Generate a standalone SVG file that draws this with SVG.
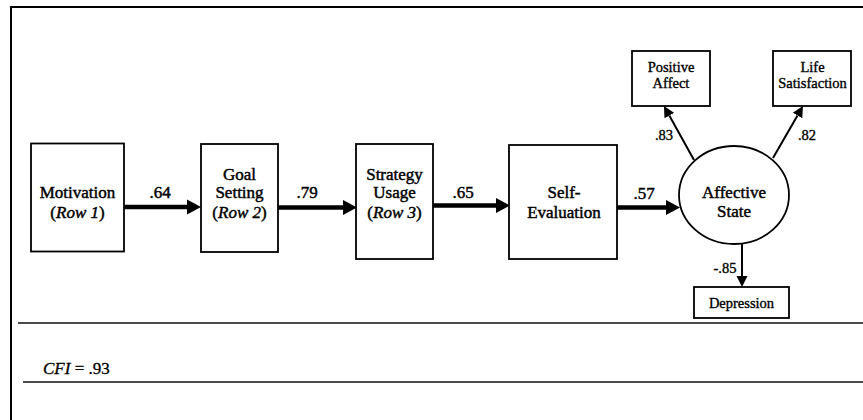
<svg xmlns="http://www.w3.org/2000/svg" width="863" height="420" viewBox="0 0 863 420">
<style>
  .frame { stroke: #000; stroke-width: 2; fill: none; }
  .rule { stroke: #111; stroke-width: 1.6; fill: none; }
  .box { fill: #fff; stroke: #000; stroke-width: 1.8; }
  .main { font-family: "Liberation Serif", "Times New Roman", serif; font-size: 17px; fill: #000; stroke: #000; stroke-width: 0.45; text-anchor: middle; }
  .small { font-family: "Liberation Serif", "Times New Roman", serif; font-size: 14.5px; fill: #000; stroke: #000; stroke-width: 0.35; text-anchor: middle; }
  .note { font-family: "Liberation Serif", "Times New Roman", serif; font-size: 17px; fill: #000; stroke: #000; stroke-width: 0.3; }
  .thick { stroke: #000; stroke-width: 4.5; fill: none; }
  .thin { stroke: #000; stroke-width: 2; fill: none; }
</style>
<defs>
  <marker id="bigHead" markerUnits="userSpaceOnUse" markerWidth="16" markerHeight="18" refX="0" refY="8" orient="auto" viewBox="0 0 16 16">
    <path d="M0,0.5 L14,8 L0,15.5 z" fill="#000"/>
  </marker>
  <marker id="smallHead" markerUnits="userSpaceOnUse" markerWidth="12" markerHeight="12" refX="0" refY="6" orient="auto" viewBox="0 0 12 12">
    <path d="M0,0.5 L11,6 L0,11.5 z" fill="#000"/>
  </marker>
</defs>
<rect x="0" y="0" width="863" height="420" fill="#fff"/>
<g id="frame">
  <path class="frame" d="M11,420 L11,7 L863,7"/>
  <line class="rule" x1="18" y1="323" x2="863" y2="323"/>
  <line class="rule" x1="23" y1="382" x2="863" y2="382"/>
</g>
<g id="connectors">
  <line class="thick" x1="124" y1="207" x2="187" y2="207" marker-end="url(#bigHead)"/>
  <line class="thick" x1="278" y1="207.5" x2="343" y2="207.5" marker-end="url(#bigHead)"/>
  <line class="thick" x1="433" y1="205.5" x2="496" y2="205.5" marker-end="url(#bigHead)"/>
  <line class="thick" x1="617" y1="207.5" x2="666" y2="207.5" marker-end="url(#bigHead)"/>
  <line class="thin" x1="694" y1="160" x2="669.3" y2="115.6" marker-end="url(#smallHead)"/>
  <line class="thin" x1="773" y1="158" x2="797.5" y2="115.5" marker-end="url(#smallHead)"/>
  <line class="thin" x1="742" y1="244" x2="742" y2="276" marker-end="url(#smallHead)"/>
  <text class="main" x="160" y="198">.64</text>
  <text class="main" x="307" y="198">.79</text>
  <text class="main" x="463" y="198">.65</text>
  <text class="main" x="644" y="199">.57</text>
  <text class="small" x="664" y="140">.83</text>
  <text class="small" x="807" y="140">.82</text>
  <text class="small" x="725" y="273">-.85</text>
</g>
<g id="motivation">
  <rect class="box" x="31" y="143.5" width="93" height="108"/>
  <text class="main" x="77.5" y="198">Motivation</text>
  <text class="main" x="77.5" y="218">(<tspan font-style="italic">Row 1</tspan>)</text>
</g>
<g id="goal-setting">
  <rect class="box" x="201" y="144" width="77" height="108"/>
  <text class="main" x="239.5" y="180">Goal</text>
  <text class="main" x="239.5" y="198">Setting</text>
  <text class="main" x="239.5" y="218">(<tspan font-style="italic">Row 2</tspan>)</text>
</g>
<g id="strategy-usage">
  <rect class="box" x="356" y="144" width="77" height="115"/>
  <text class="main" x="394.5" y="180">Strategy</text>
  <text class="main" x="394.5" y="198">Usage</text>
  <text class="main" x="394.5" y="218">(<tspan font-style="italic">Row 3</tspan>)</text>
</g>
<g id="self-evaluation">
  <rect class="box" x="509" y="145" width="108" height="114"/>
  <text class="main" x="564" y="198">Self-</text>
  <text class="main" x="564" y="218">Evaluation</text>
</g>
<g id="affective-state">
  <ellipse class="box" cx="734" cy="195" rx="55" ry="49"/>
  <text class="main" x="734" y="198">Affective</text>
  <text class="main" x="734" y="217">State</text>
</g>
<g id="positive-affect">
  <rect class="box" x="632" y="51" width="78" height="55"/>
  <text class="small" x="671" y="72">Positive</text>
  <text class="small" x="671" y="88">Affect</text>
</g>
<g id="life-satisfaction">
  <rect class="box" x="773" y="51" width="78" height="55"/>
  <text class="small" x="812.5" y="72">Life</text>
  <text class="small" x="812.5" y="88">Satisfaction</text>
</g>
<g id="depression">
  <rect class="box" x="694" y="287" width="95" height="31"/>
  <text class="small" x="741.5" y="308">Depression</text>
</g>
<g id="fit-note">
  <text class="note" x="43" y="374"><tspan font-style="italic">CFI</tspan> = .93</text>
</g>
</svg>
